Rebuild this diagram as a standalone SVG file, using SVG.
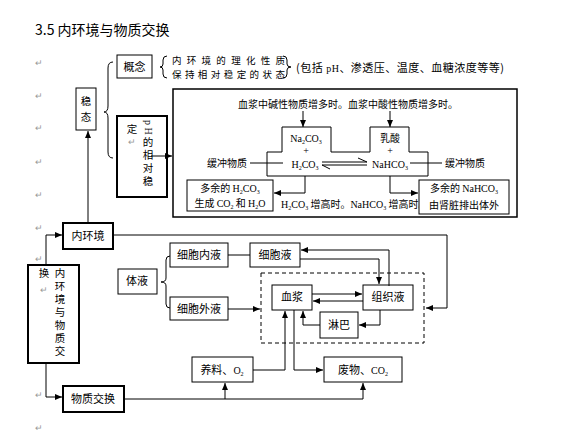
<svg xmlns="http://www.w3.org/2000/svg" width="561" height="441" viewBox="0 0 561 441">
<style>
text{font-family:"Noto Sans CJK SC","Liberation Serif",sans-serif;font-size:11px;fill:#000}
.t{font-size:14px}
.s{font-size:10px}
.dl{font-size:9.5px}
.vt{font-size:10.5px;writing-mode:vertical-rl;letter-spacing:2.5px}
.l{font-family:"Liberation Serif","Noto Sans CJK SC",serif;font-size:10px}
.sub{font-size:6px}
.m{fill:#999;font-size:9px}
.b{fill:#fff;stroke:#000;stroke-width:1}
.bb{fill:#fff;stroke:#000;stroke-width:2}
.c{fill:none;stroke:#000;stroke-width:1}
.d{fill:none;stroke:#000;stroke-width:1;stroke-dasharray:4 3}
.mid{text-anchor:middle}
</style>
<defs>
<marker id="a" markerWidth="8" markerHeight="8" refX="7" refY="4" orient="auto" markerUnits="userSpaceOnUse"><path d="M0,1 L7,4 L0,7 z" fill="#000"/></marker>
</defs>

<text class="t" x="35" y="35">3.5 内环境与物质交换</text>
<g id="marks">
<text class="m" x="35" y="66">↵</text>
<text class="m" x="35" y="99">↵</text>
<text class="m" x="35" y="131">↵</text>
<text class="m" x="35" y="165">↵</text>
<text class="m" x="35" y="198">↵</text>
<text class="m" x="35" y="231">↵</text>
<text class="m" x="35" y="262">↵</text>
<text class="m" x="35" y="398">↵</text>
<text class="m" x="35" y="431">↵</text>
</g>

<g id="n-gainian">
<rect class="b" x="117" y="55" width="35" height="23"/>
<text class="mid" x="134.5" y="71">概念</text>
</g>
<g id="n-def">
<text class="dl" x="172" y="64" textLength="113" lengthAdjust="spacing">内环境的理化性质</text>
<text class="dl" x="172" y="78" textLength="113" lengthAdjust="spacing">保持相对稳定的状态</text>
<text x="296" y="72" textLength="208" lengthAdjust="spacing">(包括 <tspan class="l">pH</tspan>、渗透压、温度、血糖浓度等等)</text>
</g>
<g id="n-wentai">
<rect class="b" x="76" y="88" width="20" height="42"/>
<text class="vt" x="86" y="96" style="letter-spacing:5.5px">稳态</text>
</g>
<g id="n-ph">
<rect class="bb" x="117" y="116" width="50" height="81"/>
<text class="vt" x="148" y="120"><tspan font-family="Liberation Serif" font-size="10">pH</tspan>的相对稳</text>
<text class="vt" x="132" y="124">定</text>
<text class="m mid" x="132" y="145">↵</text>
</g>

<g id="n-bigbox">
<rect x="173" y="89" width="344" height="128" fill="#fff" stroke="#000" stroke-width="1.5"/>
<text class="s mid" x="348" y="108">血浆中碱性物质增多时。血浆中酸性物质增多时。</text>
<path class="c" d="M282,127 H331 V152 H370 V127 H409 V152 H428 V176 H267 V152 H282 Z"/>
<text class="l mid" x="306" y="142">Na<tspan class="sub" dy="2">2</tspan><tspan dy="-2">CO</tspan><tspan class="sub" dy="2">3</tspan></text>
<text class="l mid" x="306" y="154">+</text>
<text class="l mid" x="305" y="168">H<tspan class="sub" dy="2">2</tspan><tspan dy="-2">CO</tspan><tspan class="sub" dy="2">3</tspan></text>
<text class="s mid" x="390" y="142">乳酸</text>
<text class="l mid" x="390" y="154">+</text>
<text class="l mid" x="390" y="168">NaHCO<tspan class="sub" dy="2">3</tspan></text>
<text class="s" x="207" y="167">缓冲物质</text>
<text class="s" x="445" y="167">缓冲物质</text>
<rect class="b" x="187" y="180" width="86" height="31"/>
<text class="s mid" x="230" y="192">多余的 <tspan class="l">H<tspan class="sub" dy="2">2</tspan><tspan dy="-2">CO</tspan><tspan class="sub" dy="2">3</tspan></tspan></text>
<text class="s mid" x="230" y="207">生成 <tspan class="l">CO<tspan class="sub" dy="2">2</tspan></tspan><tspan dy="-2"> 和 </tspan><tspan class="l">H<tspan class="sub" dy="2">2</tspan><tspan dy="-2">O</tspan></tspan></text>
<text class="s" x="281" y="208"><tspan class="l">H<tspan class="sub" dy="2">2</tspan><tspan dy="-2">CO</tspan><tspan class="sub" dy="2">3</tspan></tspan><tspan dy="-2"> 增高时。</tspan><tspan class="l">NaHCO<tspan class="sub" dy="2">3</tspan></tspan><tspan dy="-2"> 增高时。</tspan></text>
<rect class="b" x="419" y="180" width="90" height="34"/>
<text class="s mid" x="464" y="192">多余的 <tspan class="l">NaHCO<tspan class="sub" dy="2">3</tspan></tspan></text>
<text class="s mid" x="464" y="209">由肾脏排出体外</text>
</g>

<g id="n-neihuanjing">
<rect class="bb" x="63" y="223" width="50" height="26"/>
<text class="mid" x="88" y="240">内环境</text>
</g>
<g id="n-left">
<rect class="bb" x="28" y="265" width="51" height="98"/>
<text class="vt" x="60" y="268">内环境与物质交</text>
<text class="vt" x="44" y="268">换</text>
<text class="m mid" x="44" y="293">↵</text>
</g>
<g id="n-wuzhi">
<rect class="bb" x="63" y="386" width="61" height="26"/>
<text class="mid" x="93" y="403">物质交换</text>
</g>
<g id="n-tiye">
<rect class="b" x="118" y="269" width="39" height="25"/>
<text class="mid" x="137" y="285">体液</text>
</g>
<g id="n-xbnei">
<rect class="b" x="170" y="243" width="58" height="24"/>
<text class="mid" x="199" y="259">细胞内液</text>
</g>
<g id="n-xby">
<rect class="b" x="250" y="243" width="50" height="24"/>
<text class="mid" x="275" y="259">细胞液</text>
</g>
<g id="n-xbwai">
<rect class="b" x="170" y="297" width="58" height="23"/>
<text class="mid" x="199" y="313">细胞外液</text>
</g>
<g id="n-dashed">
<rect class="d" x="261" y="273" width="163" height="70"/>
</g>
<g id="n-xuejiang">
<rect class="b" x="272" y="285" width="40" height="25"/>
<text class="mid" x="292" y="301">血浆</text>
</g>
<g id="n-zuzhiye">
<rect class="b" x="363" y="285" width="50" height="25"/>
<text class="mid" x="388" y="301">组织液</text>
</g>
<g id="n-linba">
<rect class="b" x="320" y="312" width="38" height="26"/>
<text class="mid" x="339" y="329">淋巴</text>
</g>
<g id="n-yangliao">
<rect class="b" x="192" y="357" width="61" height="25"/>
<text class="mid" x="222" y="374">养料、<tspan class="l">O<tspan class="sub" dy="2">2</tspan></tspan></text>
</g>
<g id="n-feiwu">
<rect class="b" x="324" y="357" width="78" height="25"/>
<text class="mid" x="363" y="374">废物、<tspan class="l">CO<tspan class="sub" dy="2">2</tspan></tspan></text>
</g>

<g id="connectors">
<path class="c" d="M113,62 Q108,62 108,68 L108,106 Q108,112 104,112 Q108,112 108,118 L108,152 Q108,158 113,158"/>
<path class="c" d="M167,56 Q163,56 163,60 L163,64 Q163,67 160,67 Q163,67 163,70 L163,74 Q163,78 167,78"/>
<path class="c" d="M283,56 Q287,56 287,60 L287,64 Q287,67 291,67 Q287,67 287,70 L287,74 Q287,78 283,78"/>
<path class="c" d="M151,156 H172" marker-end="url(#a)"/>
<path class="c" d="M303,111 V127" marker-end="url(#a)"/>
<path class="c" d="M390,111 V127" marker-end="url(#a)"/>
<path class="c" d="M250,163 H283"/>
<path class="c" d="M410,163 H442"/>
<path class="c" d="M322,162 H367 L358,158"/>
<path class="c" d="M367,165 H322 L330,169"/>
<path class="c" d="M305,176 V193 H274" marker-end="url(#a)"/>
<path class="c" d="M390,176 V193 H418" marker-end="url(#a)"/>
<path class="c" d="M88,223 V131" marker-end="url(#a)"/>
<path class="c" d="M46,265 V235 H62" marker-end="url(#a)"/>
<path class="c" d="M46,363 V397 H62" marker-end="url(#a)"/>
<path class="c" d="M113,235 H447 V308 H426" marker-end="url(#a)"/>
<path class="c" d="M124,399 H363 V383" marker-end="url(#a)"/>
<path class="c" d="M225,399 V383" marker-end="url(#a)"/>
<path class="c" d="M253,370 H285 V311" marker-end="url(#a)"/>
<path class="c" d="M294,310 V370 H323" marker-end="url(#a)"/>
<path class="c" d="M312,294 H362" marker-end="url(#a)"/>
<path class="c" d="M363,301 H313" marker-end="url(#a)"/>
<path class="c" d="M380,310 V325 H359" marker-end="url(#a)"/>
<path class="c" d="M320,325 H303 V311" marker-end="url(#a)"/>
<path class="c" d="M389,286 V250 H301" marker-end="url(#a)"/>
<path class="c" d="M300,259 H379 V284" marker-end="url(#a)"/>
<path class="c" d="M228,255 H250"/>
<path class="c" d="M228,309 H260" marker-end="url(#a)"/>
<path class="c" d="M170,256 Q166,256 166,260 L166,278 Q166,282 161,282 Q166,282 166,286 L166,304 Q166,308 170,308"/>
</g>
</svg>
